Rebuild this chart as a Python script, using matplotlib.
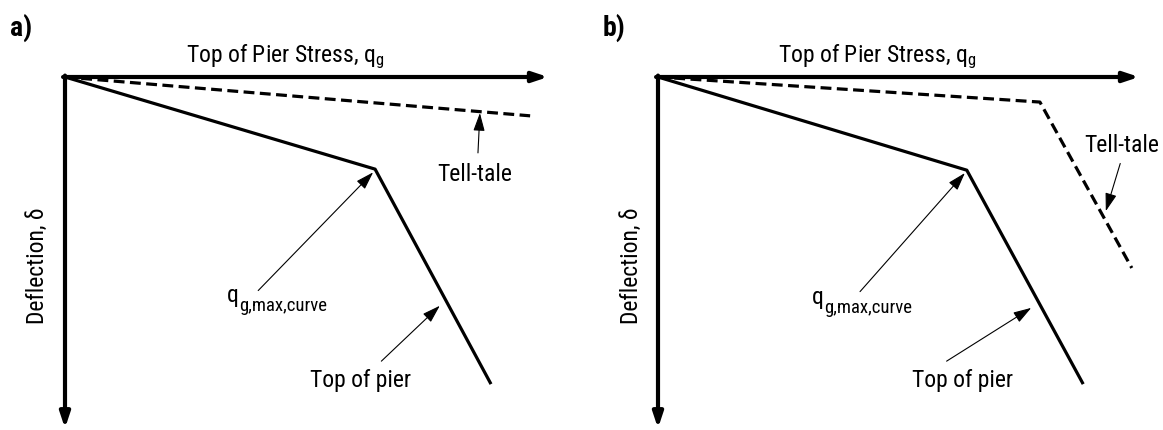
import matplotlib
matplotlib.use("Agg")
import matplotlib.pyplot as plt

fam = ['Roboto Condensed', 'Liberation Sans', 'DejaVu Sans']
plt.rcParams['font.family'] = fam
plt.rcParams['mathtext.fontset'] = 'custom'
plt.rcParams['mathtext.rm'] = 'Roboto Condensed'
plt.rcParams['mathtext.it'] = 'Roboto Condensed'

# normalised stress (x) and deflection (y, downwards)
pier_a_x = [0, 0.642, 0.882]
pier_a_y = [0, 0.261, 0.870]
tell_a_x = [0, 0.963]
tell_a_y = [0, 0.110]

pier_b_x = [0, 0.642, 0.884]
pier_b_y = [0, 0.264, 0.870]
tell_b_x = [0, 0.794, 0.985]
tell_b_y = [0, 0.071, 0.541]

x_label = r'Top of Pier Stress, q$_\mathregular{g}$'
y_label = 'Deflection, δ'
q_main, q_sub = 'q', 'g,max,curve'

fig = plt.figure(figsize=(11.63, 4.30), dpi=100)

def panel(left, width, px, py, tx, ty, notes):
    ax = fig.add_axes([left / 1163, 0, width / 1163, 353 / 430])
    ax.set_xlim(0, 1)
    ax.set_ylim(1, 0)
    ax.axis('off')
    # axes drawn as arrows
    ax.annotate('', xy=(1.0, 0), xytext=(-0.004, 0),
                arrowprops=dict(arrowstyle='-|>,head_length=0.9,head_width=0.3',
                                lw=3, color='black', shrinkA=0, shrinkB=0),
                annotation_clip=False)
    ax.annotate('', xy=(0, 0.995), xytext=(0, -0.004),
                arrowprops=dict(arrowstyle='-|>,head_length=0.9,head_width=0.3',
                                lw=3, color='black', shrinkA=0, shrinkB=0),
                annotation_clip=False)
    ax.plot(px, py, color='black', lw=2.3, solid_capstyle='butt', clip_on=False)
    ax.plot(tx, ty, color='black', lw=2.3, dashes=(3.4, 1.7), clip_on=False)
    ax.text(0.456, -0.057, x_label, ha='center', va='center', fontsize=17)
    ax.text(-0.056, 0.535, y_label, ha='center', va='center', rotation=90, fontsize=17)
    for text, tpos, ha, start, tip in notes:
        t = ax.text(tpos[0], tpos[1], text, ha=ha, va='center', fontsize=17)
        if text == q_main:
            ax.annotate(q_sub, xy=(1.02, 0.08), xycoords=t, ha='left', va='center',
                        fontsize=13.5)
        ax.annotate('', xy=tip, xytext=start,
                    arrowprops=dict(arrowstyle='-|>,head_length=1.1,head_width=0.35',
                                    lw=0.8, color='black', shrinkA=0, shrinkB=0),
                    annotation_clip=False)
    return ax

panel(65, 483, pier_a_x, pier_a_y, tell_a_x, tell_a_y, [
    ('Tell-tale', (0.849, 0.275), 'center', (0.855, 0.215), (0.859, 0.102)),
    (q_main, (0.335, 0.620), 'left', (0.400, 0.605), (0.638, 0.270)),
    ('Top of pier', (0.507, 0.861), 'left', (0.655, 0.805), (0.776, 0.648)),
])
panel(658, 481, pier_b_x, pier_b_y, tell_b_x, tell_b_y, [
    ('Tell-tale', (0.965, 0.195), 'center', (0.961, 0.245), (0.931, 0.380)),
    (q_main, (0.320, 0.626), 'left', (0.420, 0.608), (0.638, 0.272)),
    ('Top of pier', (0.528, 0.861), 'left', (0.600, 0.805), (0.776, 0.654)),
])

fig.text(10 / 1163, 1 - 28 / 430, 'a)', fontsize=20, fontweight='bold', va='center')
fig.text(603 / 1163, 1 - 28 / 430, 'b)', fontsize=20, fontweight='bold', va='center')

fig.savefig('out.png', dpi=100)
